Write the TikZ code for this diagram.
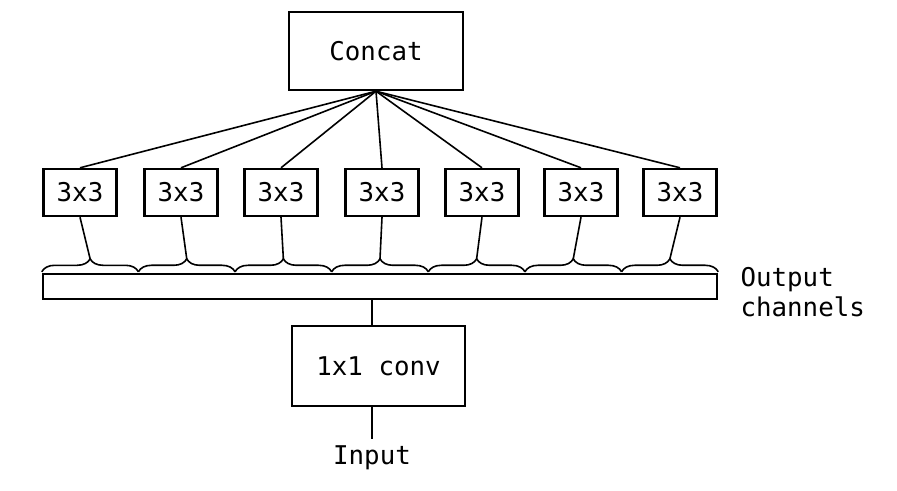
\documentclass[tikz,border=0pt]{standalone}
\usepackage{fontspec}
\setmonofont{DejaVu Sans Mono}
\usepackage{tikz}
\usetikzlibrary{positioning, calc, decorations.pathreplacing}
\tikzset{
  gc-box/.style={
    rectangle, draw=black, line width=1.2pt, fill=white,
    align=center, inner sep=0pt
  },
  gc-conv/.style={gc-box, minimum width=36.5pt, minimum height=23.5pt},
  gc-link/.style={draw=black, line width=0.8pt},
  gc-brace/.style={draw=black, line width=0.8pt,
    decorate, decoration={brace, amplitude=6.5pt}},
}

\begin{document}
\begin{tikzpicture}[x=0.5pt, y=-0.5pt,
    font=\ttfamily\fontsize{12.9}{15}\selectfont]
  \useasboundingbox (0,0) rectangle (897,491);

  \node[gc-box, minimum width=87pt, minimum height=39pt]   (concat) at (376,51)  {Concat};
  \node[gc-box, minimum width=337pt, minimum height=12.5pt] (bar)   at (380,286.5) {};
  \node[gc-box, minimum width=86.5pt, minimum height=40pt] (conv)   at (378.5,366) {1x1 conv};
  \node                                                   (input)  at (372,458) {Input};
  \node[right=11pt of bar, yshift=-3pt, align=left, inner sep=0pt,
        font=\ttfamily\fontsize{12.9}{15}\selectfont]       (outch)  {Output\\channels};

  \foreach \x [count=\i from 0] in {80,181,281,382,482,581,680} {
    \node[gc-conv] (b\i) at (\x,192.5) {3x3};
    \coordinate (l\i) at ($(bar.north west)!{\i/7}!(bar.north east)$);
    \coordinate (r\i) at ($(bar.north west)!{(\i+1)/7}!(bar.north east)$);
    \coordinate (tip\i) at ($(l\i)!0.5!(r\i) + (0,-14)$);
    \draw[gc-brace] ($(l\i)+(0,-1)$) -- ($(r\i)+(0,-1)$);
    \draw[gc-link] (concat.south) -- (b\i.north);
    \draw[gc-link] (b\i.south) -- (tip\i);
  }

  \draw[gc-link] (bar.south -| input) -- (conv.north -| input);
  \draw[gc-link] (conv.south -| input) -- (input.north);
\end{tikzpicture}
\end{document}
